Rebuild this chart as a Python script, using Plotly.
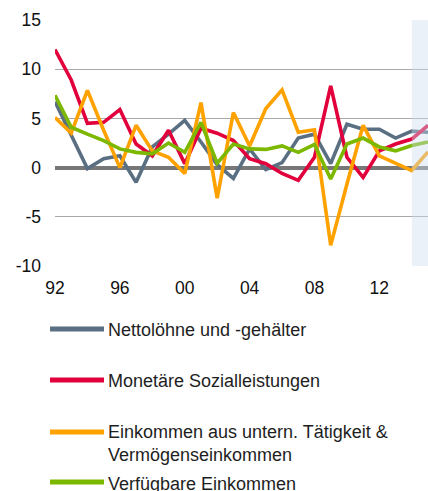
import plotly.graph_objects as go

years = list(range(1992, 2016))
netto = [6.7, 3.3, -0.1, 0.9, 1.2, -1.5, 2.1, 3.4, 4.8, 2.6, 0.3, -1.1, 1.9, -0.2, 0.5, 3.0, 3.4, 0.4, 4.4, 3.9, 3.9, 3.0, 3.7, 3.6]
sozial = [12.0, 8.9, 4.5, 4.6, 5.9, 2.4, 1.2, 3.8, 0.4, 4.0, 3.5, 2.75, 0.9, 0.4, -0.6, -1.3, 1.05, 8.3, 1.05, -1.0, 1.7, 2.4, 2.9, 4.3]
untern = [5.1, 3.5, 7.85, 3.8, 0.0, 4.3, 1.7, 1.05, -0.6, 6.6, -3.1, 5.6, 2.2, 6.0, 7.9, 3.6, 3.85, -7.9, -1.7, 4.3, 1.2, 0.4, -0.3, 1.6]
verfueg = [7.35, 4.1, 3.4, 2.75, 1.9, 1.55, 1.4, 2.5, 1.55, 4.6, 0.45, 2.4, 1.9, 1.85, 2.2, 1.55, 2.35, -1.15, 2.4, 3.0, 2.1, 1.7, 2.25, 2.6]

series_names = ["Nettolöhne und -gehälter", "Monetäre Sozialleistungen",
                "Einkommen aus untern. Tätigkeit &<br>Vermögenseinkommen", "Verfügbare Einkommen"]
series_values = [netto, sozial, untern, verfueg]
colors = ["#5b6f82", "#e1003c", "#ffa200", "#7cb800"]

x_ticks = [1992, 1996, 2000, 2004, 2008, 2012]
x_tick_labels = ["92", "96", "00", "04", "08", "12"]
y_ticks = [-10, -5, 0, 5, 10, 15]
y_tick_labels = ["-10", "-5", "0", "5", "10", "15"]
forecast_start = 2014

W, H = 428, 491
L, T = 55, 20
plot_bottom = 266
R, B = 0, H - plot_bottom
plot_w = W - L - R
plot_h = H - T - B

def px_x(px):
    return (px - L) / plot_w

def px_y(py):
    return (plot_bottom - py) / plot_h

fig = go.Figure()
for name, vals, col in zip(series_names, series_values, colors):
    fig.add_trace(go.Scatter(x=years, y=vals, mode="lines", name=name,
                             line=dict(color=col, width=3.6), showlegend=False,
                             hoverinfo="skip"))

fig.add_shape(type="rect", xref="x", yref="paper", x0=forecast_start, x1=2015.5,
              y0=0, y1=1, fillcolor="rgba(205,222,240,0.42)", line=dict(width=0), layer="above")

font_family = "Liberation Sans, Arial, sans-serif"
legend_y = [329, 380, 432, 482]
text_y = [330, 381, 443, 484]
for i, (name, col) in enumerate(zip(series_names, colors)):
    fig.add_shape(type="line", xref="paper", yref="paper", x0=px_x(50), x1=px_x(104),
                  y0=px_y(legend_y[i]), y1=px_y(legend_y[i]), line=dict(color=col, width=5))
    fig.add_annotation(xref="paper", yref="paper", x=px_x(106), y=px_y(text_y[i]),
                       text=name, showarrow=False, xanchor="left", yanchor="middle", align="left",
                       font=dict(size=18, color="#1e1e1e", family=font_family))

fig.update_layout(
    width=W, height=H,
    margin=dict(l=L, r=R, t=T, b=B, autoexpand=False),
    plot_bgcolor="white", paper_bgcolor="white",
    font=dict(family=font_family, size=17.5, color="#111111"),
    showlegend=False,
    xaxis=dict(range=[1992, 2015], tickvals=x_ticks, ticktext=x_tick_labels,
               showgrid=False, zeroline=False, showline=False, ticks="",
               ticklabelstandoff=9, fixedrange=True),
    yaxis=dict(range=[-10, 15], tickvals=y_ticks, ticktext=y_tick_labels,
               showgrid=True, gridcolor="#a9a9a9", gridwidth=1,
               zeroline=True, zerolinecolor="#777777", zerolinewidth=4,
               showline=False, ticks="", ticklabelstandoff=13, fixedrange=True),
)

fig.write_html("out.html", config={"displayModeBar": False},
               post_script="document.body.style.margin='0';document.body.style.overflow='hidden';")
